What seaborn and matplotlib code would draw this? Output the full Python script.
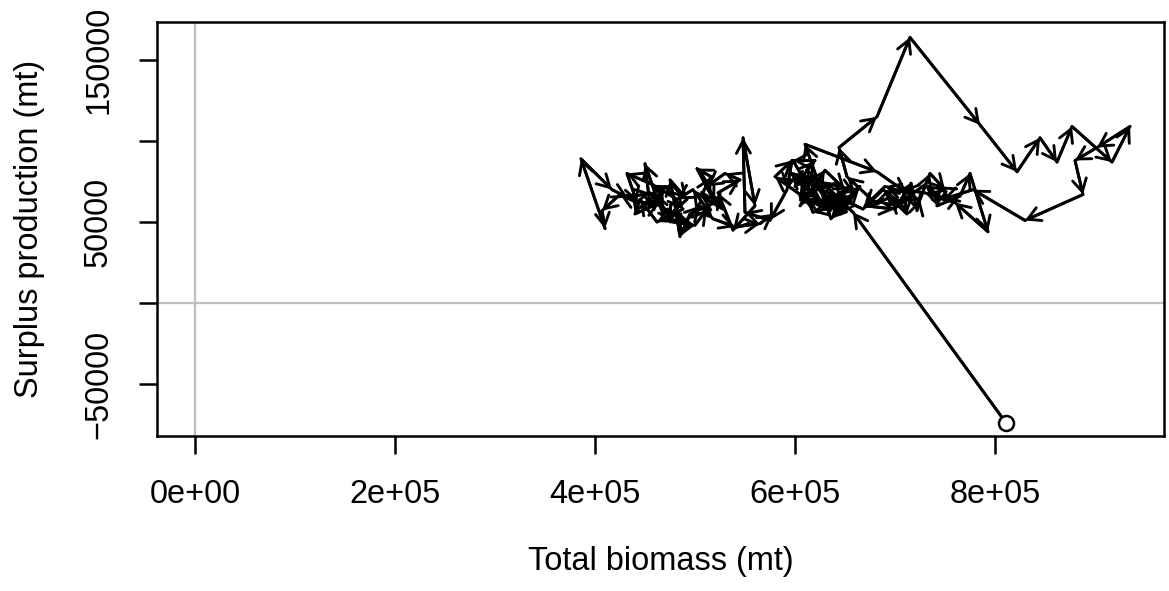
import matplotlib
matplotlib.use("Agg")
import matplotlib.pyplot as plt
import seaborn as sns
import pandas as pd

# trajectory, first point is the open circle
biomass = [811000, 658000, 640000, 655000, 628000, 612000, 600000, 620000, 598000, 615000,
           632000, 650000, 622000, 605000, 640000, 660000, 646000, 628000,
           642000, 618000, 606000, 596000, 625000, 648000, 665000, 636000,
           610000, 682000, 712000, 690000, 670000, 700000, 716000, 722000, 725000, 735000,
           750000, 745000, 742000, 765000, 775000, 793000, 760000, 730000, 708000, 712000,
           695000, 680000, 652000, 644000, 682000, 715000, 785000, 822000, 845000, 862000,
           877000, 917000, 935000, 902000, 880000, 888000, 830000, 778000, 748000, 730000,
           705000, 688000, 668000, 640000, 620000, 605000, 630000, 650000, 635000, 612000,
           580000, 597000, 592000, 575000, 550000, 548000, 560000, 538000, 523000, 545000,
           530000, 512000, 528000, 506000, 516000, 502000, 520000, 495000, 485000, 480000,
           475000, 492000, 470000, 460000, 450000, 455000, 470000, 488000, 462000, 445000,
           440000, 465000, 478000, 500000, 512000, 498000, 482000, 458000, 432000, 442000,
           425000, 407000, 410000, 386000, 417000, 433000, 455000, 470000, 490000, 505000,
           518000, 540000, 565000, 578000]
surplus = [-74000, 56000, 66000, 72000, 60000, 78000, 72000, 88000, 88000, 70000,
           58000, 64000, 62000, 66000, 74000, 68000, 55000, 68000,
           60000, 56000, 74000, 80000, 76000, 62000, 72000, 52000,
           98000, 81000, 68000, 72000, 60000, 58000, 74000, 57000, 64000, 80000,
           70000, 72000, 60000, 66000, 80000, 44000, 62000, 68000, 70000, 55000,
           65000, 62000, 78000, 96000, 115000, 164000, 110000, 81000, 102000, 87000,
           109000, 87000, 109000, 96000, 88000, 67000, 51000, 70000, 64000, 73000,
           62000, 70000, 58000, 66000, 72000, 60000, 82000, 70000, 57000, 64000,
           78000, 88000, 70000, 51000, 56000, 102000, 60000, 45000, 68000, 76000,
           80000, 72000, 58000, 66000, 78000, 83000, 62000, 55000, 41000, 60000,
           76000, 64000, 52000, 68000, 86000, 60000, 72000, 58000, 50000, 64000,
           55000, 62000, 50000, 48000, 58000, 70000, 64000, 73000, 80000, 62000,
           67000, 57000, 46000, 89000, 70000, 65000, 68000, 58000, 50000, 60000,
           52000, 47000, 49000, 55000]

x_ticks = [0, 200000, 400000, 600000, 800000]
x_tick_labels = ["0e+00", "2e+05", "4e+05", "6e+05", "8e+05"]
y_ticks = [-50000, 0, 50000, 100000, 150000]
y_tick_labels = ["\u221250000", "", "50000", "", "150000"]

sns.set_style("ticks")
plt.rcParams["font.family"] = ["Liberation Sans", "DejaVu Sans"]
plt.rcParams["font.size"] = 13

df = pd.DataFrame({"biomass": biomass, "surplus": surplus})

fig = plt.figure(figsize=(1169 / 180, 591 / 180), dpi=180)
ax = fig.add_axes([157 / 1169, 1 - 436 / 591, 1007 / 1169, 414 / 591])

# reference lines at zero
ax.axhline(0, color="#bebebe", lw=0.9, zorder=0)
ax.axvline(0, color="#bebebe", lw=0.9, zorder=0)

sns.lineplot(data=df, x="biomass", y="surplus", sort=False, estimator=None,
             color="black", lw=1.15, ax=ax)

# arrow heads for each step
for i in range(len(df) - 1):
    ax.annotate("", xy=(df.biomass[i + 1], df.surplus[i + 1]),
                xytext=(df.biomass[i], df.surplus[i]),
                arrowprops=dict(arrowstyle="->,head_length=0.5,head_width=0.28",
                                color="black", lw=1.15, shrinkA=0, shrinkB=0,
                                mutation_scale=10))

ax.plot(df.biomass[0], df.surplus[0], "o", mfc="white", mec="black", ms=6, mew=1.0, zorder=5)

ax.set_xlim(-38000, 969000)
ax.set_ylim(-82100, 173500)
ax.set_xticks(x_ticks)
ax.set_xticklabels(x_tick_labels)
ax.set_yticks(y_ticks)
ax.set_yticklabels(y_tick_labels, rotation=90, va="center")
ax.tick_params(length=7.2, width=1.0, pad=10, labelsize=13, colors="black")
for s in ax.spines.values():
    s.set_linewidth(1.0)
    s.set_color("black")

ax.set_xlabel("Total biomass (mt)", fontsize=13, color="black")
ax.set_ylabel("Surplus production (mt)", fontsize=13, color="black")
ax.xaxis.set_label_coords(0.5, -110 / 414)
ax.yaxis.set_label_coords(-112 / 1007, 0.5)

fig.savefig("out.png", dpi=180)
